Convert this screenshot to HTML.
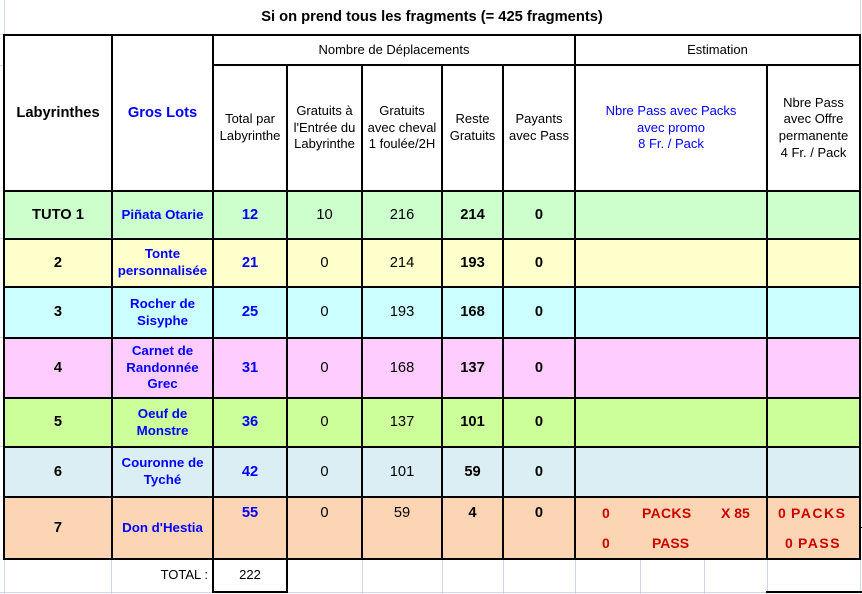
<!DOCTYPE html>
<html><head><meta charset="utf-8"><style>
*{margin:0;padding:0;box-sizing:border-box}
html,body{width:862px;height:594px;overflow:hidden;background:#fff}
body{position:relative;font-family:"Liberation Sans",Arial,sans-serif;color:#000}
div{position:absolute}
.t{display:flex;align-items:center;justify-content:center;text-align:center;white-space:nowrap;line-height:16.7px}
.b{font-weight:bold;font-size:14.7px}
.n{font-size:14.7px}
.h{font-size:13px}
.nm{font-weight:bold;font-size:13.3px;color:#0000ff}
.bl{color:#0000ff}
.bk{background:#000}
.g{background:#d0d7e5}
.r{color:#cc0000;font-weight:bold;font-size:14px;white-space:nowrap;display:flex;align-items:center;line-height:16px}
</style></head><body>

<!-- faint gridlines -->
<div class="g" style="left:4px;top:0;width:1px;height:34px"></div>
<div class="g" style="left:860px;top:0;width:1px;height:34px"></div>
<div class="g" style="left:0;top:34px;width:3px;height:1px"></div>
<div class="g" style="left:0;top:65px;width:3px;height:1px"></div>
<div class="g" style="left:0;top:238px;width:3px;height:1px"></div>
<div class="g" style="left:0;top:337px;width:3px;height:1px"></div>
<div class="g" style="left:0;top:446px;width:3px;height:1px"></div>
<div class="g" style="left:0;top:592px;width:862px;height:1px"></div>
<div class="g" style="left:4px;top:560px;width:1px;height:34px"></div>
<div class="g" style="left:111px;top:560px;width:1px;height:34px"></div>
<div class="g" style="left:362px;top:560px;width:1px;height:34px"></div>
<div class="g" style="left:442px;top:560px;width:1px;height:34px"></div>
<div class="g" style="left:503px;top:560px;width:1px;height:34px"></div>
<div class="g" style="left:575px;top:560px;width:1px;height:34px"></div>
<div class="g" style="left:640px;top:560px;width:1px;height:34px"></div>
<div class="g" style="left:704px;top:560px;width:1px;height:34px"></div>
<div class="g" style="left:767px;top:560px;width:1px;height:34px"></div>
<div class="g" style="left:860px;top:560px;width:1px;height:34px"></div>

<!-- title -->
<div class="t b" style="left:0;top:9px;width:862px;height:17px;line-height:17px;padding-left:2px">Si on prend tous les fragments (= 425 fragments)</div>

<!-- row backgrounds -->
<div style="left:5px;top:192px;width:854px;height:46px;background:#ccffcc"></div>
<div style="left:5px;top:240px;width:854px;height:46px;background:#ffffcc"></div>
<div style="left:5px;top:288px;width:854px;height:49px;background:#ccffff"></div>
<div style="left:5px;top:339px;width:854px;height:58px;background:#ffccff"></div>
<div style="left:5px;top:399px;width:854px;height:47px;background:#ccff99"></div>
<div style="left:5px;top:448px;width:854px;height:48px;background:#daeef3"></div>
<div style="left:5px;top:498px;width:854px;height:60px;background:#fcd5b4"></div>

<!-- black lines horizontal -->
<div class="bk" style="left:3px;top:34px;width:858px;height:2px"></div>
<div class="bk" style="left:212px;top:64px;width:649px;height:2px"></div>
<div class="bk" style="left:3px;top:190px;width:858px;height:2px"></div>
<div class="bk" style="left:3px;top:238px;width:858px;height:2px"></div>
<div class="bk" style="left:3px;top:286px;width:858px;height:2px"></div>
<div class="bk" style="left:3px;top:337px;width:858px;height:2px"></div>
<div class="bk" style="left:3px;top:397px;width:858px;height:2px"></div>
<div class="bk" style="left:3px;top:446px;width:858px;height:2px"></div>
<div class="bk" style="left:3px;top:496px;width:858px;height:2px"></div>
<div class="bk" style="left:3px;top:558px;width:858px;height:2px"></div>
<div class="bk" style="left:212px;top:591px;width:76px;height:2px"></div>
<div class="bk" style="left:766px;top:591px;width:96px;height:2px"></div>
<div class="bk" style="left:861px;top:527px;width:1px;height:1px"></div>

<!-- black lines vertical -->
<div class="bk" style="left:3px;top:34px;width:2px;height:526px"></div>
<div class="bk" style="left:111px;top:34px;width:2px;height:526px"></div>
<div class="bk" style="left:212px;top:34px;width:2px;height:559px"></div>
<div class="bk" style="left:286px;top:64px;width:2px;height:529px"></div>
<div class="bk" style="left:361px;top:64px;width:2px;height:496px"></div>
<div class="bk" style="left:441px;top:64px;width:2px;height:496px"></div>
<div class="bk" style="left:502px;top:64px;width:2px;height:496px"></div>
<div class="bk" style="left:574px;top:34px;width:2px;height:526px"></div>
<div class="bk" style="left:766px;top:64px;width:2px;height:496px"></div>
<div class="bk" style="left:859px;top:34px;width:2px;height:526px"></div>

<!-- header -->
<div class="t b" style="left:5px;top:36px;width:106px;height:154px">Labyrinthes</div>
<div class="t b bl" style="left:113px;top:36px;width:99px;height:154px">Gros Lots</div>
<div class="t h" style="left:214px;top:36px;width:360px;height:28px">Nombre de Déplacements</div>
<div class="t h" style="left:576px;top:36px;width:283px;height:28px">Estimation</div>
<div class="t h" style="left:214px;top:66px;width:72px;height:124px">Total par<br>Labyrinthe</div>
<div class="t h" style="left:288px;top:66px;width:73px;height:124px">Gratuits à<br>l'Entrée du<br>Labyrinthe</div>
<div class="t h" style="left:363px;top:66px;width:78px;height:124px">Gratuits<br>avec cheval<br>1 foulée/2H</div>
<div class="t h" style="left:443px;top:66px;width:59px;height:124px">Reste<br>Gratuits</div>
<div class="t h" style="left:504px;top:66px;width:70px;height:124px">Payants<br>avec Pass</div>
<div class="t h bl" style="left:576px;top:66px;width:190px;height:124px">Nbre Pass avec Packs<br>avec promo<br>8 Fr. / Pack</div>
<div class="t h" style="left:768px;top:66px;width:91px;height:124px">Nbre Pass<br>avec Offre<br>permanente<br>4 Fr. / Pack</div>

<!-- row 1 -->
<div class="t b" style="left:5px;top:192px;width:106px;height:46px">TUTO 1</div>
<div class="t nm" style="left:113px;top:192px;width:99px;height:46px">Piñata Otarie</div>
<div class="t b bl" style="left:214px;top:192px;width:72px;height:46px">12</div>
<div class="t n" style="left:288px;top:192px;width:73px;height:46px">10</div>
<div class="t n" style="left:363px;top:192px;width:78px;height:46px">216</div>
<div class="t b" style="left:443px;top:192px;width:59px;height:46px">214</div>
<div class="t b" style="left:504px;top:192px;width:70px;height:46px">0</div>

<!-- row 2 -->
<div class="t b" style="left:5px;top:240px;width:106px;height:46px">2</div>
<div class="t nm" style="left:113px;top:240px;width:99px;height:46px">Tonte<br>personnalisée</div>
<div class="t b bl" style="left:214px;top:240px;width:72px;height:46px">21</div>
<div class="t n" style="left:288px;top:240px;width:73px;height:46px">0</div>
<div class="t n" style="left:363px;top:240px;width:78px;height:46px">214</div>
<div class="t b" style="left:443px;top:240px;width:59px;height:46px">193</div>
<div class="t b" style="left:504px;top:240px;width:70px;height:46px">0</div>

<!-- row 3 -->
<div class="t b" style="left:5px;top:288px;width:106px;height:49px">3</div>
<div class="t nm" style="left:113px;top:288px;width:99px;height:49px">Rocher de<br>Sisyphe</div>
<div class="t b bl" style="left:214px;top:288px;width:72px;height:49px">25</div>
<div class="t n" style="left:288px;top:288px;width:73px;height:49px">0</div>
<div class="t n" style="left:363px;top:288px;width:78px;height:49px">193</div>
<div class="t b" style="left:443px;top:288px;width:59px;height:49px">168</div>
<div class="t b" style="left:504px;top:288px;width:70px;height:49px">0</div>

<!-- row 4 -->
<div class="t b" style="left:5px;top:339px;width:106px;height:58px">4</div>
<div class="t nm" style="left:113px;top:339px;width:99px;height:58px">Carnet de<br>Randonnée<br>Grec</div>
<div class="t b bl" style="left:214px;top:339px;width:72px;height:58px">31</div>
<div class="t n" style="left:288px;top:339px;width:73px;height:58px">0</div>
<div class="t n" style="left:363px;top:339px;width:78px;height:58px">168</div>
<div class="t b" style="left:443px;top:339px;width:59px;height:58px">137</div>
<div class="t b" style="left:504px;top:339px;width:70px;height:58px">0</div>

<!-- row 5 -->
<div class="t b" style="left:5px;top:399px;width:106px;height:47px">5</div>
<div class="t nm" style="left:113px;top:399px;width:99px;height:47px">Oeuf de<br>Monstre</div>
<div class="t b bl" style="left:214px;top:399px;width:72px;height:47px">36</div>
<div class="t n" style="left:288px;top:399px;width:73px;height:47px">0</div>
<div class="t n" style="left:363px;top:399px;width:78px;height:47px">137</div>
<div class="t b" style="left:443px;top:399px;width:59px;height:47px">101</div>
<div class="t b" style="left:504px;top:399px;width:70px;height:47px">0</div>

<!-- row 6 -->
<div class="t b" style="left:5px;top:448px;width:106px;height:48px">6</div>
<div class="t nm" style="left:113px;top:448px;width:99px;height:48px">Couronne de<br>Tyché</div>
<div class="t b bl" style="left:214px;top:448px;width:72px;height:48px">42</div>
<div class="t n" style="left:288px;top:448px;width:73px;height:48px">0</div>
<div class="t n" style="left:363px;top:448px;width:78px;height:48px">101</div>
<div class="t b" style="left:443px;top:448px;width:59px;height:48px">59</div>
<div class="t b" style="left:504px;top:448px;width:70px;height:48px">0</div>

<!-- row 7 -->
<div class="t b" style="left:5px;top:498px;width:106px;height:60px">7</div>
<div class="t nm" style="left:113px;top:498px;width:99px;height:60px">Don d'Hestia</div>
<div class="t b bl" style="left:214px;top:498px;width:72px;height:30px">55</div>
<div class="t n" style="left:288px;top:498px;width:73px;height:30px">0</div>
<div class="t n" style="left:363px;top:498px;width:78px;height:30px">59</div>
<div class="t b" style="left:443px;top:498px;width:59px;height:30px">4</div>
<div class="t b" style="left:504px;top:498px;width:70px;height:30px">0</div>

<!-- estimation row 7 -->
<div class="r" style="left:602px;top:498px;height:30px">0</div>
<div class="r" style="left:642px;top:498px;height:30px;letter-spacing:0.3px">PACKS</div>
<div class="r" style="left:721px;top:498px;height:30px">X 85</div>
<div class="r" style="left:602px;top:528px;height:30px">0</div>
<div class="r" style="left:652px;top:528px;height:30px">PASS</div>
<div class="r" style="left:778px;top:498px;height:30px">0</div>
<div class="r" style="left:791px;top:498px;height:30px;letter-spacing:1.5px">PACKS</div>
<div class="r" style="left:785px;top:528px;height:30px">0</div>
<div class="r" style="left:798px;top:528px;height:30px;letter-spacing:1.5px">PASS</div>

<!-- total row -->
<div class="t h" style="left:113px;top:560px;width:95px;height:31px;justify-content:flex-end">TOTAL :</div>
<div class="t h" style="left:214px;top:560px;width:72px;height:31px">222</div>

</body></html>
